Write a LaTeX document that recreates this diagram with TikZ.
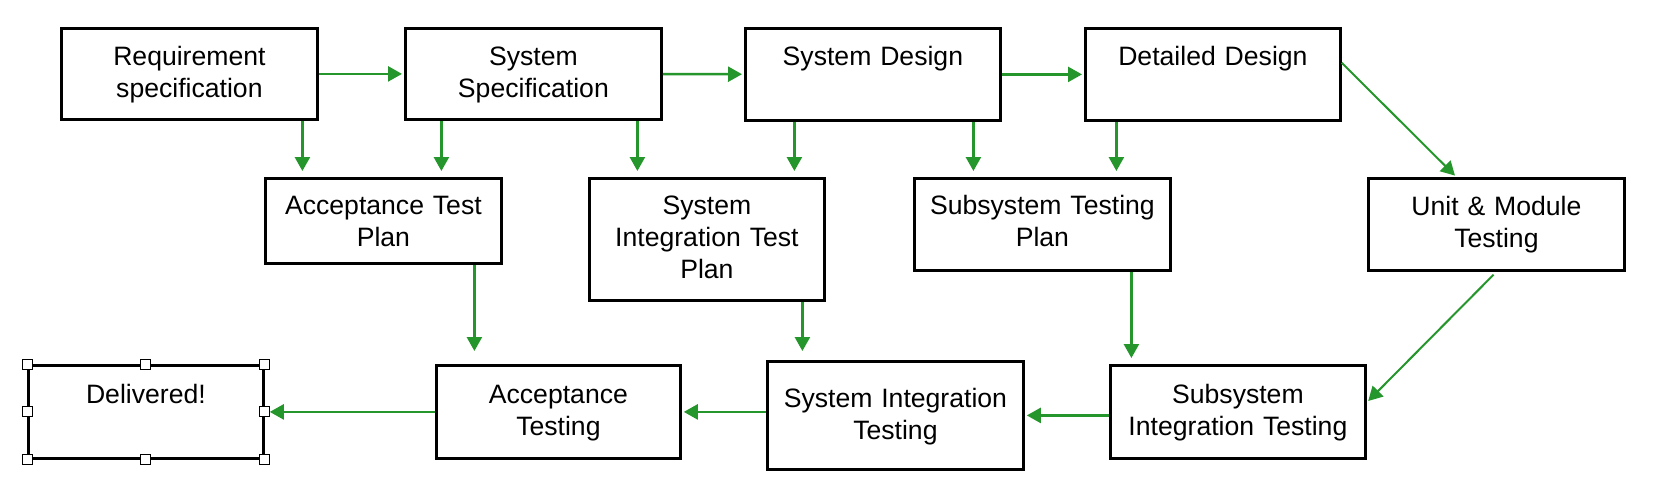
\documentclass[tikz,border=0pt]{standalone}
\usepackage{fontspec}
\setmainfont{Liberation Sans}
\usetikzlibrary{positioning,arrows.meta}
\definecolor{flowgreen}{RGB}{37,150,43}

\begin{document}
\begin{tikzpicture}[x=0.5pt,y=-0.5pt,>={Triangle[length=7pt,width=7.5pt]},
    stage/.style={draw, line width=1.4pt, inner sep=0pt, anchor=north west, align=center,
      text height=18.5pt, font=\fontsize{13.3}{16}\selectfont},
    flow/.style={->, flowgreen, line width=1.25pt, shorten >=1pt},
    handle/.style={draw, fill=white, line width=0.5pt, inner sep=0pt, minimum size=5pt}]
    \fill[white] (0,0) rectangle (1670,484);
    \useasboundingbox (0,0) rectangle (1670,484);
    % top row
    \node[stage, text width=128pt, text depth=27pt] (req) at (60,27) {Requirement\\specification};
    \node[stage, text width=128pt, text depth=27pt] (spec) at (404,27) {System\\Specification};
    \node[stage, text width=127.5pt, text depth=27.5pt] (design) at (744,27) {System Design};
    \node[stage, text width=127.5pt, text depth=27.5pt] (detail) at (1084,27) {Detailed Design};
    % test plans
    \node[stage, text width=118pt, text height=18pt, text depth=24.5pt] (atp) at (264,177) {Acceptance Test\\Plan};
    \node[stage, text width=117.5pt, text height=18pt, text depth=43pt] (sitp) at (588,177) {System\\Integration Test\\Plan};
    \node[stage, text width=128pt, text height=18pt, text depth=28pt] (stp) at (913,177) {Subsystem Testing\\Plan};
    \node[stage, text width=128pt, text depth=27.5pt] (unit) at (1367,177) {Unit \& Module\\Testing};
    % testing
    \node[stage, text width=117.5pt, text height=19pt, text depth=27.5pt] (deliv) at (27,364) {Delivered!};
    \node[stage, text width=122pt, text height=19pt, text depth=27.5pt] (acc) at (435,364) {Acceptance\\Testing};
    \node[stage, text width=128pt, text height=23pt, text depth=31pt] (sit) at (766,360) {System Integration\\Testing};
    \node[stage, text width=127.5pt, text height=19pt, text depth=27.5pt] (subint) at (1109,364) {Subsystem\\Integration Testing};
    \foreach \a [count=\i] in {north west,north,north east,east,south east,south,south west,west}
      \node[handle] (hnd\i) at (deliv.\a) {};

    \draw[flow] (req) -- (spec);
    \draw[flow] (spec) -- (design);
    \draw[flow] (design) -- (detail);
    \draw[flow, shorten >=3pt] ([xshift=56.5pt]req.south) -- ([xshift=56.5pt]req.south |- atp.north);
    \draw[flow, shorten >=3pt] ([xshift=-46pt]spec.south) -- ([xshift=-46pt]spec.south |- atp.north);
    \draw[flow, shorten >=3pt] ([xshift=52pt]spec.south) -- ([xshift=52pt]spec.south |- sitp.north);
    \draw[flow, shorten >=3pt] ([xshift=-39.25pt]design.south) -- ([xshift=-39.25pt]design.south |- sitp.north);
    \draw[flow, shorten >=3pt] ([xshift=50.25pt]design.south) -- ([xshift=50.25pt]design.south |- stp.north);
    \draw[flow, shorten >=3pt] ([xshift=-48.25pt]detail.south) -- ([xshift=-48.25pt]detail.south |- stp.north);
    \draw[flow, line width=1pt] ([yshift=5.75pt]detail.east) -- ([xshift=-20pt]unit.north);
    \draw[flow, shorten >=6.5pt] ([xshift=45.5pt]atp.south) -- ([xshift=45.5pt]atp.south |- acc.north);
    \draw[flow, shorten >=4.5pt] ([xshift=47.75pt]sitp.south) -- ([xshift=47.75pt]sitp.south |- sit.north);
    \draw[flow, shorten >=3pt] ([xshift=44.5pt]stp.south) -- ([xshift=44.5pt]stp.south |- subint.north);
    \draw[flow, line width=1pt, shorten <=2pt] (unit.south) -- ([yshift=4.75pt]subint.east);
    \draw[flow] (subint.west |- sit.east) -- (sit.east);
    \draw[flow] (sit.west |- acc.east) -- (acc.east);
    \draw[flow, shorten >=2.5pt] (acc.west) -- (deliv.east);
\end{tikzpicture}
\end{document}
